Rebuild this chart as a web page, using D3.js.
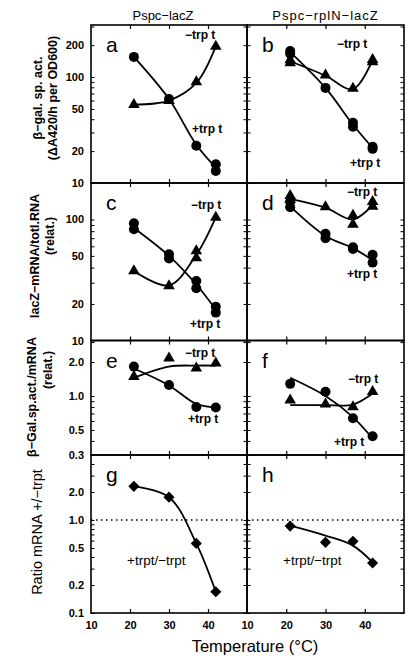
<!DOCTYPE html>
<html><head><meta charset="utf-8">
<script src="https://cdn.jsdelivr.net/npm/d3@7"></script>
<style>
body{margin:0;background:#fff}
svg{display:block}
text{font-family:"Liberation Sans",Arial,Helvetica,sans-serif;fill:#000}
</style>
</head><body>
<svg id="chart" width="416" height="660"></svg>
<script>
// ---------------- data ----------------
const temps = [21, 30, 37, 42];
const xTickValues = [10, 20, 30, 40];
const columnTitles = ["Pspc\u2212lacZ", "Pspc\u2212rplN\u2212lacZ"];

// panel a : beta-gal sp. act., Pspc-lacZ
const aPlusPts  = [[155], [62], [22.5], [15, 13]];
const aMinusPts = [[55], [60], [90], [195]];
const aPlusFit  = [155, 62, 23, 14];
const aMinusFit = [55, 60, 88, 195];
// panel b : beta-gal sp. act., Pspc-rplN-lacZ
const bPlusPts  = [[176, 166], [79], [37, 34], [22, 21]];
const bMinusPts = [[145, 136], [104], [78], [146, 139]];
const bPlusFit  = [172, 79, 35.5, 21.5];
const bMinusFit = [141, 103, 77, 145];
// panel c : lacZ mRNA, Pspc-lacZ
const cPlusPts  = [[93, 83], [51.5, 47.5], [31, 27], [19, 17]];
const cMinusPts = [[37.5], [28.2], [55, 48], [104]];
const cPlusFit  = [85, 50, 29, 18];
const cMinusFit = [37.5, 28.5, 51, 104];
// panel d : lacZ mRNA, Pspc-rplN-lacZ
const dPlusPts  = [[140, 126], [76, 70], [59, 57], [51, 44]];
const dMinusPts = [[157, 146], [127], [108, 91], [140, 128]];
const dPlusFit  = [128, 73, 58, 46];
const dMinusFit = [148, 125, 100, 131];
// panel e : beta-gal / mRNA, Pspc-lacZ
const ePlusPts  = [[1.82], [1.25], [0.80], [0.79]];
const eMinusPts = [[1.48], [2.16], [1.76], [1.95]];
const ePlusFit  = [1.75, 1.24, 0.85, 0.79];
const eMinusFit = [1.45, 1.82, 1.86, 1.86];
// panel f : beta-gal / mRNA, Pspc-rplN-lacZ
const fPlusPts  = [[1.28], [1.09], [0.635], [0.44]];
const fMinusPts = [[0.92], [0.845], [0.80], [1.09]];
const fPlusFit  = [1.45, 1.0, 0.65, 0.42];
const fMinusFit = [0.83, 0.83, 0.84, 1.05];
// panel g / h : ratio mRNA +trp/-trp
const gPts = [[2.3], [1.76], [0.56], [0.169]];
const gFit = [2.3, 1.76, 0.56, 0.169];
const hPts = [[0.86], [0.575], [0.59], [0.345]];
const hFit = [0.87, 0.68, 0.53, 0.35];

// y domains / labelled ticks per row
const rowDomains = [[10, 310], [10, 200], [0.3, 3.1], [0.1, 5]];
const rowTickLabels = [[10, 20, 50, 100, 200], [10, 20, 50, 100], [0.3, 0.5, 1, 2], [0.1, 0.2, 0.5, 1, 2]];
const rowTickFormats = [",.0f", ",.0f", ".1f", ".1f"];

// ---------------- layout ----------------
const colRange = [[91, 247], [247, 404]];
const rowRange = [[25, 183], [183, 340.5], [340.5, 455], [455, 613]];

const panels = [
  {id: "a", row: 0, col: 0, series: [{pts: aPlusPts, fit: aPlusFit, sym: "circle"}, {pts: aMinusPts, fit: aMinusFit, sym: "triangle"}],
   notes: [["\u2212trp t", 185, 39], ["+trp t", 192, 133]]},
  {id: "b", row: 0, col: 1, series: [{pts: bPlusPts, fit: bPlusFit, sym: "circle"}, {pts: bMinusPts, fit: bMinusFit, sym: "triangle"}],
   notes: [["\u2212trp t", 337, 48], ["+trp t", 350, 167]]},
  {id: "c", row: 1, col: 0, series: [{pts: cPlusPts, fit: cPlusFit, sym: "circle"}, {pts: cMinusPts, fit: cMinusFit, sym: "triangle"}],
   notes: [["\u2212trp t", 191, 209], ["+trp t", 190, 328]]},
  {id: "d", row: 1, col: 1, series: [{pts: dPlusPts, fit: dPlusFit, sym: "circle"}, {pts: dMinusPts, fit: dMinusFit, sym: "triangle"}],
   notes: [["\u2212trp t", 347, 196], ["+trp t", 347, 278]]},
  {id: "e", row: 2, col: 0, series: [{pts: ePlusPts, fit: ePlusFit, sym: "circle"}, {pts: eMinusPts, fit: eMinusFit, sym: "triangle"}],
   notes: [["\u2212trp t", 185, 357], ["+trp t", 188, 423]]},
  {id: "f", row: 2, col: 1, series: [{pts: fPlusPts, fit: fPlusFit, sym: "circle"}, {pts: fMinusPts, fit: fMinusFit, sym: "triangle"}],
   notes: [["\u2212trp t", 348, 383], ["+trp t", 334, 446]]},
  {id: "g", row: 3, col: 0, series: [{pts: gPts, fit: gFit, sym: "diamond"}], ref: 1,
   notes: [["+trpt/\u2212trpt", 127, 565]]},
  {id: "h", row: 3, col: 1, series: [{pts: hPts, fit: hFit, sym: "diamond"}], ref: 1,
   notes: [["+trpt/\u2212trpt", 283, 565]]}
];

const svg = d3.select("#chart");
const xScales = colRange.map(r => d3.scaleLinear().domain([10, 50]).range(r));
const yScales = rowRange.map((r, i) => d3.scaleLog().domain(rowDomains[i]).range([r[1], r[0]]));

const symGen = {
  circle: d3.symbol().type(d3.symbolCircle).size(Math.PI * 25),
  triangle: d3.symbol().type(d3.symbolTriangle).size(58),
  diamond: d3.symbol().type(d3.symbolSquare).size(62)
};

panels.forEach(p => {
  const x = xScales[p.col], y = yScales[p.row];
  const [x0, x1] = colRange[p.col], [y0, y1] = rowRange[p.row];
  const g = svg.append("g");

  // ticks (inward on all four sides)
  const yt = y.ticks();
  const major = rowTickLabels[p.row];
  const addY = (axisFn, xpos) => {
    g.append("g").attr("transform", `translate(${xpos},0)`)
      .call(axisFn(y).tickValues(yt).tickFormat("").tickSizeOuter(0).tickSizeInner(3.5))
      .call(s => s.select(".domain").remove())
      .call(s => s.selectAll(".tick line").attr("stroke-width", 1));
  };
  addY(d3.axisRight, x0);
  addY(d3.axisLeft, x1);
  const addX = (axisFn, ypos) => {
    g.append("g").attr("transform", `translate(0,${ypos})`)
      .call(axisFn(x).tickValues([20, 30, 40]).tickFormat("").tickSizeOuter(0).tickSizeInner(4))
      .call(s => s.select(".domain").remove())
      .call(s => s.selectAll(".tick line").attr("stroke-width", 1.2));
  };
  addX(d3.axisTop, y1);
  addX(d3.axisBottom, y0);

  // y tick labels only on left column
  if (p.col === 0) {
    g.append("g").attr("transform", `translate(${x0},0)`)
      .call(d3.axisLeft(y).tickValues(major).tickSize(0).tickPadding(7).tickFormat(d3.format(rowTickFormats[p.row])))
      .call(s => s.select(".domain").remove())
      .call(s => s.selectAll("text").attr("font-size", 11).attr("font-weight", "bold")
        .attr("font-family", '"Liberation Sans",Arial,sans-serif'));
  }
  // x tick labels on bottom row
  if (p.row === 3) {
    g.append("g").attr("transform", `translate(0,${y1})`)
      .call(d3.axisBottom(x).tickValues(xTickValues).tickSize(0).tickPadding(8).tickFormat(d3.format("d")))
      .call(s => s.select(".domain").remove())
      .call(s => s.selectAll("text").attr("font-size", 11).attr("font-weight", "bold")
        .attr("font-family", '"Liberation Sans",Arial,sans-serif'));
  }

  // dotted reference line
  if (p.ref) {
    g.append("line").attr("x1", x0).attr("x2", x1).attr("y1", y(p.ref)).attr("y2", y(p.ref))
      .attr("stroke", "#000").attr("stroke-width", 1.4).attr("stroke-dasharray", "1.5,3.5");
  }

  // fitted curves
  const line = d3.line().x(d => x(d[0])).y(d => y(d[1])).curve(d3.curveCatmullRom.alpha(0.5));
  p.series.forEach(s => {
    g.append("path").attr("d", line(temps.map((t, i) => [t, s.fit[i]])))
      .attr("fill", "none").attr("stroke", "#000").attr("stroke-width", 1.8);
  });
  // markers
  p.series.forEach(s => {
    const pts = [];
    temps.forEach((t, i) => s.pts[i].forEach(v => pts.push([t, v])));
    g.selectAll(null).data(pts).join("path")
      .attr("d", symGen[s.sym])
      .attr("transform", d => `translate(${x(d[0])},${y(d[1])})` + (s.sym === "diamond" ? " rotate(45)" : ""))
      .attr("fill", "#000");
  });

  // frame
  g.append("rect").attr("x", x0).attr("y", y0).attr("width", x1 - x0).attr("height", y1 - y0)
    .attr("fill", "none").attr("stroke", "#000").attr("stroke-width", 1.6);

  // panel letter
  g.append("text").attr("x", x0 + 15).attr("y", y0 + 27).attr("font-size", 21).text(p.id);

  // annotations
  p.notes.forEach(n => {
    g.append("text").attr("x", n[1]).attr("y", n[2])
      .attr("font-size", p.row === 3 ? 13.5 : 12)
      .attr("font-weight", p.row === 3 ? "normal" : "bold")
      .text(n[0]);
  });
});

// column titles
svg.append("text").attr("x", (colRange[0][0] + colRange[0][1]) / 2 - 6).attr("y", 20)
  .attr("text-anchor", "middle").attr("font-size", 13).text(columnTitles[0]);
svg.append("text").attr("x", (colRange[1][0] + colRange[1][1]) / 2).attr("y", 20)
  .attr("text-anchor", "middle").attr("font-size", 13).attr("letter-spacing", 1).text(columnTitles[1]);

// y axis titles
const yTitles = [
  ["\u03B2\u2212gal. sp. act.", 38, 98, "bold", 12.5],
  ["(\u0394A420/h per OD600)", 53, 98, "bold", 12.5],
  ["lacZ\u2212mRNA/totl.RNA", 35, 256, "bold", 12.5],
  ["(relat.)", 50, 236, "bold", 12.5],
  ["\u03B2\u2212Gal.sp.act./mRNA", 32, 397, "bold", 12.5],
  ["(relat.)", 48, 370, "bold", 12.5],
  ["Ratio mRNA +/\u2212trpt", 37, 532, "normal", 14.5]
];
yTitles.forEach(t => {
  svg.append("text").attr("transform", `translate(${t[1]},${t[2]}) rotate(-90)`)
    .attr("text-anchor", "middle").attr("dy", "0.35em")
    .attr("font-weight", t[3]).attr("font-size", t[4]).text(t[0]);
});

// x axis title
svg.append("text").attr("x", 255).attr("y", 652).attr("text-anchor", "middle")
  .attr("font-size", 16.5).text("Temperature (\u00B0C)");
</script>
</body></html>
